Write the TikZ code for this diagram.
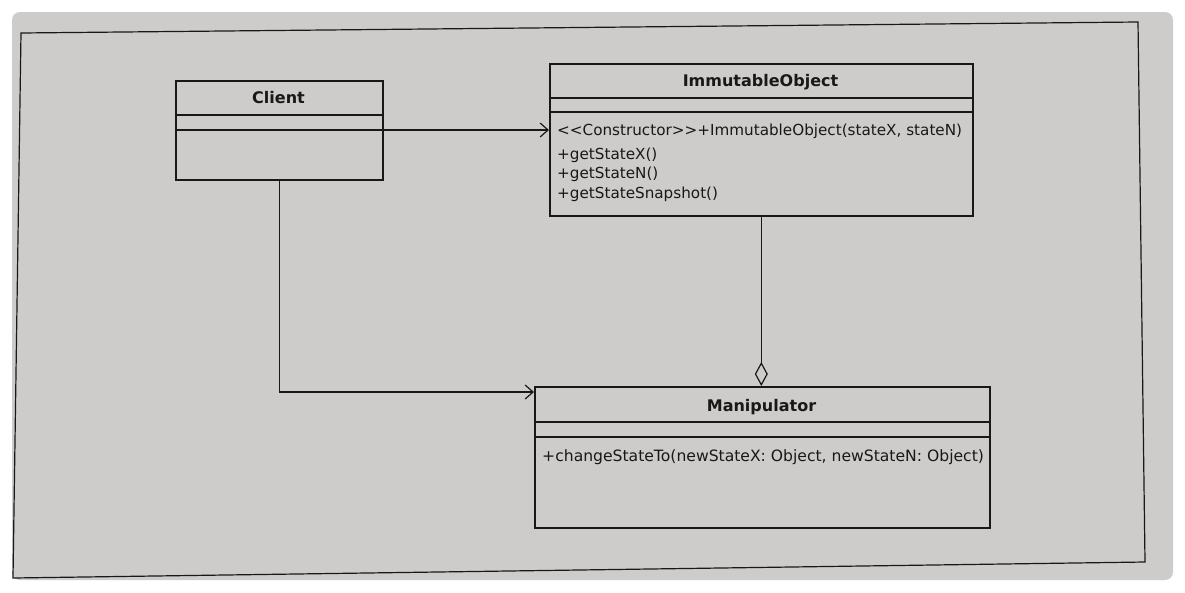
\documentclass[tikz,border=0pt]{standalone}
\usepackage{fontspec}
\setmainfont{DejaVu Sans}
\usetikzlibrary{arrows.meta}
\definecolor{paper}{RGB}{205,204,202}
\definecolor{ink}{RGB}{24,24,24}
\begin{document}
\begin{tikzpicture}[x=1pt,y=-1pt,
  classbox/.style={draw=ink,line width=1.6pt,rectangle,inner sep=0pt,anchor=north west},
  sepline/.style={draw=ink,line width=1.6pt},
  title/.style={font=\fontsize{16}{18}\selectfont\bfseries,text=ink,anchor=base,inner sep=0pt},
  member/.style={font=\fontsize{15.6}{18}\selectfont,text=ink,anchor=base west,inner sep=0pt},
  iomember/.style={member,font=\fontsize{15.2}{18}\selectfont},
  assoc/.style={draw=ink,line width=1.4pt,-{Straight Barb[length=8pt,width=14pt,line width=1.2pt]}},
  aggr/.style={draw=ink,line width=1.4pt,-{Diamond[open,length=24pt,width=13pt,line width=1.2pt]}}
]
\useasboundingbox (0,0) rectangle (1185,592);
\fill[white] (0,0) rectangle (1185,592);
\fill[paper,rounded corners=8pt] (12,12) rectangle (1173,580);
\draw[ink,line width=1.2pt] (21,33) -- (1138,22) -- (1145,562) -- (13,578) -- cycle;

% Client
\node[classbox,minimum width=207pt,minimum height=99pt] (client) at (175,80) {};
\draw[sepline] ([yshift=-35pt]client.north west) -- ([yshift=-35pt]client.north east);
\draw[sepline] ([yshift=-50pt]client.north west) -- ([yshift=-50pt]client.north east);
\node[title] (clientT) at (278.5,103) {Client};

% ImmutableObject
\node[classbox,minimum width=423pt,minimum height=152pt] (io) at (549,63) {};
\draw[sepline] ([yshift=-35pt]io.north west) -- ([yshift=-35pt]io.north east);
\draw[sepline] ([yshift=-49pt]io.north west) -- ([yshift=-49pt]io.north east);
\node[title] (ioT) at (760.5,86) {ImmutableObject};
\node[iomember] (io1) at (557,135) {<{}<Constructor>{}>+ImmutableObject(stateX, stateN)};
\node[iomember] (io2) at (557,159) {+getStateX()};
\node[iomember] (io3) at (557,178) {+getStateN()};
\node[iomember] (io4) at (557,198) {+getStateSnapshot()};

% Manipulator
\node[classbox,minimum width=455pt,minimum height=141pt] (manip) at (534,386) {};
\draw[sepline] ([yshift=-36pt]manip.north west) -- ([yshift=-36pt]manip.north east);
\draw[sepline] ([yshift=-51pt]manip.north west) -- ([yshift=-51pt]manip.north east);
\node[title] (manipT) at (761.5,411) {Manipulator};
\node[member] (m1) at (542,461) {+changeStateTo(newStateX: Object, newStateN: Object)};

% connectors
\draw[assoc] ([yshift=-50pt]client.north east) -- ([yshift=-50pt]client.north east -| io.west);
\draw[assoc] (client.south) |- ([yshift=-6pt]manip.north west);
\draw[aggr] (io.south) -- (io.south |- manip.north);
\end{tikzpicture}
\end{document}
